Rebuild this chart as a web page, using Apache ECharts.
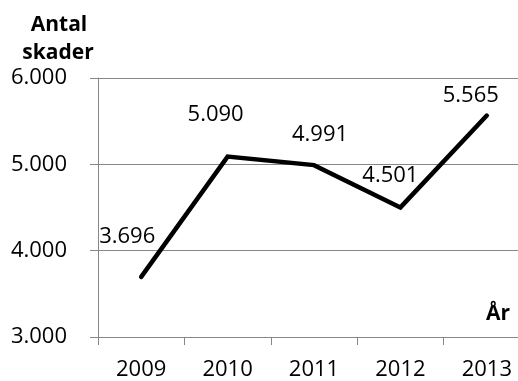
<!DOCTYPE html>
<html><head><meta charset="utf-8">
<script src="https://cdn.jsdelivr.net/npm/echarts@6/dist/echarts.min.js"></script>
<style>html,body{margin:0;padding:0;background:#fff;overflow:hidden}#c{width:531px;height:381px}</style>
</head><body><div id="c"></div>
<script>
const years = ['2009', '2010', '2011', '2012', '2013'];
const skader = [3696, 5090, 4991, 4501, 5565];
const yTicks = [3000, 4000, 5000, 6000];
const yTitle = ['Antal', 'skader'];
const xTitle = 'År';

const labelOffsets = [[-14, -40], [-12, -42], [6, -30], [-10, -32], [-16, -20]];
function fmt(v) { return String(v).replace(/\B(?=(\d{3})+(?!\d))/g, '.'); }
const FONT = '"Open Sans", sans-serif';
const GRAY = '#878787';

const chart = echarts.init(document.getElementById('c'), null, {renderer: 'canvas'});
chart.setOption({
  animation: false,
  backgroundColor: '#fff',
  grid: {left: 98, top: 78, height: 260, width: 432, containLabel: false},
  xAxis: {
    type: 'category', data: years, boundaryGap: true,
    axisLine: {show: true, lineStyle: {color: GRAY, width: 1}},
    axisTick: {show: true, length: 8, lineStyle: {color: GRAY}},
    axisLabel: {fontFamily: FONT, fontSize: 22, color: '#000', margin: 22}
  },
  yAxis: {
    type: 'value', min: yTicks[0], max: yTicks[yTicks.length - 1], interval: 1000,
    axisLine: {show: true, lineStyle: {color: GRAY, width: 1}},
    axisTick: {show: true, length: 8, lineStyle: {color: GRAY}},
    splitLine: {show: true, lineStyle: {color: GRAY, width: 1}},
    axisLabel: {fontFamily: FONT, fontSize: 22, color: '#000', margin: 31, formatter: fmt}
  },
  graphic: [
    {type: 'text', style: {text: yTitle[0], x: 59, y: 25, textAlign: 'center', textVerticalAlign: 'middle', font: 'bold 21px ' + FONT, fill: '#000'}},
    {type: 'text', style: {text: yTitle[1], x: 58, y: 53, textAlign: 'center', textVerticalAlign: 'middle', font: 'bold 21px ' + FONT, fill: '#000'}},
    {type: 'text', style: {text: xTitle, x: 510, y: 314, textAlign: 'right', textVerticalAlign: 'middle', font: 'bold 21px ' + FONT, fill: '#000'}}
  ],
  series: [{
    type: 'line',
    data: skader.map((v, i) => ({value: v, label: {offset: labelOffsets[i]}})),
    symbol: 'circle', symbolSize: 1,
    itemStyle: {color: '#000'},
    lineStyle: {color: '#000', width: 4.5, cap: 'round', join: 'miter'},
    label: {show: true, position: 'inside', fontFamily: FONT, fontSize: 22, color: '#000', formatter: p => fmt(p.value)}
  }]
});
</script></body></html>
